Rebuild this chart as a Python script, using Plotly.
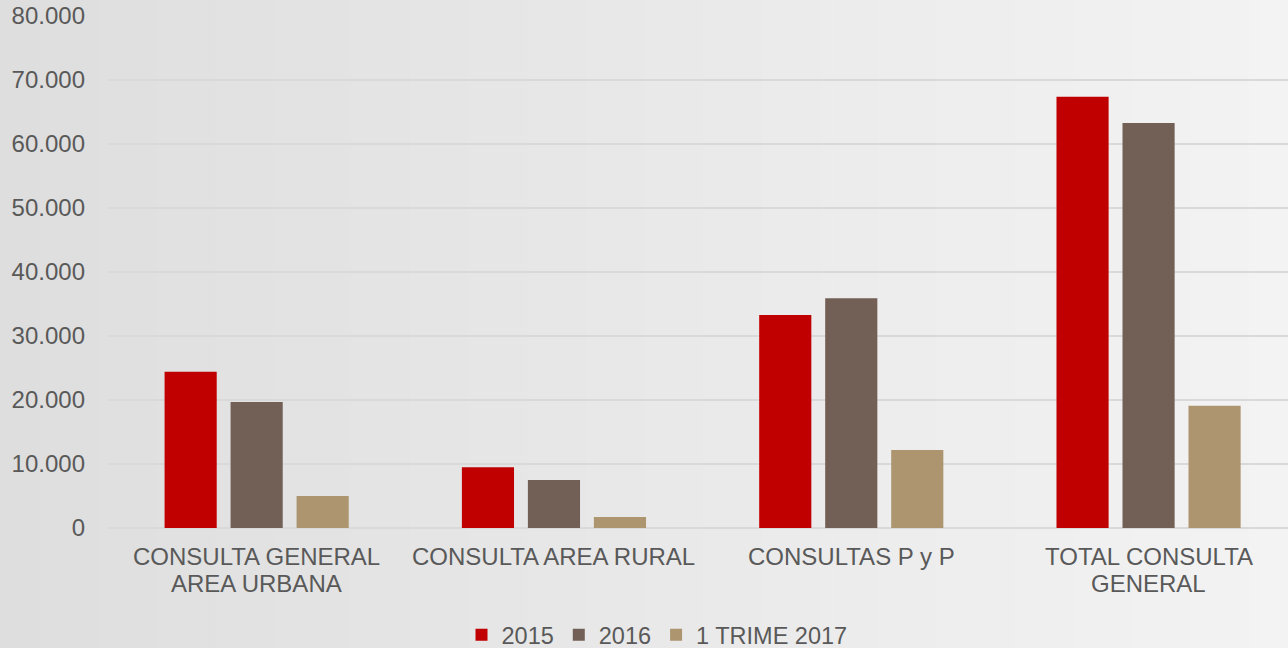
import plotly.graph_objects as go

categories = ["CONSULTA GENERAL AREA URBANA", "CONSULTA AREA RURAL",
              "CONSULTAS P y P", "TOTAL CONSULTA GENERAL"]
category_lines = [["CONSULTA GENERAL", "AREA URBANA"], ["CONSULTA AREA RURAL"],
                  ["CONSULTAS P y P"], ["TOTAL CONSULTA", "GENERAL"]]
series_names = ["2015", "2016", "1 TRIME 2017"]
values_2015 = [24400, 9500, 33300, 67400]
values_2016 = [19700, 7500, 35900, 63300]
values_2017 = [5000, 1700, 12200, 19100]
colors = ["#C00000", "#725F55", "#AD9570"]
y_ticks = [0, 10000, 20000, 30000, 40000, 50000, 60000, 70000, 80000]

W, H = 1288, 648
L, R, T, B = 108, 0, 16, 120
pw = W - L - R
ph = H - T - B


def py(p):
    """pixel row -> paper y"""
    return (T + ph - p) / ph


fig = go.Figure()
for name, vals, col in zip(series_names, [values_2015, values_2016, values_2017], colors):
    fig.add_trace(go.Bar(name=name, x=categories, y=vals, marker_color=col,
                         marker_line_width=0))

# background horizontal gradient (paper space strips)
shapes = []
n = 66
c0 = (0xDE, 0xDE, 0xDE)
c1 = (0xF3, 0xF3, 0xF3)
for i in range(n):
    px0 = W * i / n
    px1 = W * (i + 1) / n + 1
    t = i / (n - 1)
    c = tuple(round(a + (b - a) * t) for a, b in zip(c0, c1))
    shapes.append(dict(type="rect", xref="paper", yref="paper", layer="below",
                       x0=(px0 - L) / pw, x1=(px1 - L) / pw,
                       y0=py(H) - 0.01, y1=py(0) + 0.01,
                       fillcolor="rgb(%d,%d,%d)" % c, line_width=0))

# category labels (two-line labels with tight spacing)
annotations = []
for cat, lines in zip(categories, category_lines):
    for j, line in enumerate(lines):
        annotations.append(dict(x=cat, xref="x", yref="paper", y=py(556 + 27 * j),
                                text=line, showarrow=False, xanchor="center",
                                yanchor="middle",
                                font=dict(size=24, color="#595959")))

fig.update_layout(
    width=W, height=H,
    margin=dict(l=L, r=R, t=T, b=B, pad=0, autoexpand=False),
    paper_bgcolor="#e8e8e8", plot_bgcolor="rgba(0,0,0,0)",
    separators=",.",
    font=dict(family="Liberation Sans, Arial, sans-serif", size=24, color="#595959"),
    barmode="group", bargap=0.334, bargroupgap=0.21,
    shapes=shapes,
    annotations=annotations,
    showlegend=True,
    legend=dict(orientation="h", xanchor="center", yanchor="middle",
                x=(657 - L) / pw, y=py(635),
                font=dict(size=23.5, color="#595959"),
                itemsizing="constant", traceorder="normal",
                bgcolor="rgba(0,0,0,0)"),
    xaxis=dict(showgrid=False, showline=False, ticks="", showticklabels=False,
               range=[-0.5, 3.469]),
    yaxis=dict(range=[0, 80000], tickvals=y_ticks, tickformat=",d",
               showgrid=True, gridcolor="#D9D9D9", gridwidth=1.5,
               zeroline=True, zerolinecolor="#D9D9D9", zerolinewidth=1.5,
               showline=False, ticks="", tickfont=dict(size=24),
               ticklabelstandoff=22),
)

fig.write_html("out.html", config={"displayModeBar": False},
               post_script="document.body.style.margin='0';document.body.style.padding='0';")
